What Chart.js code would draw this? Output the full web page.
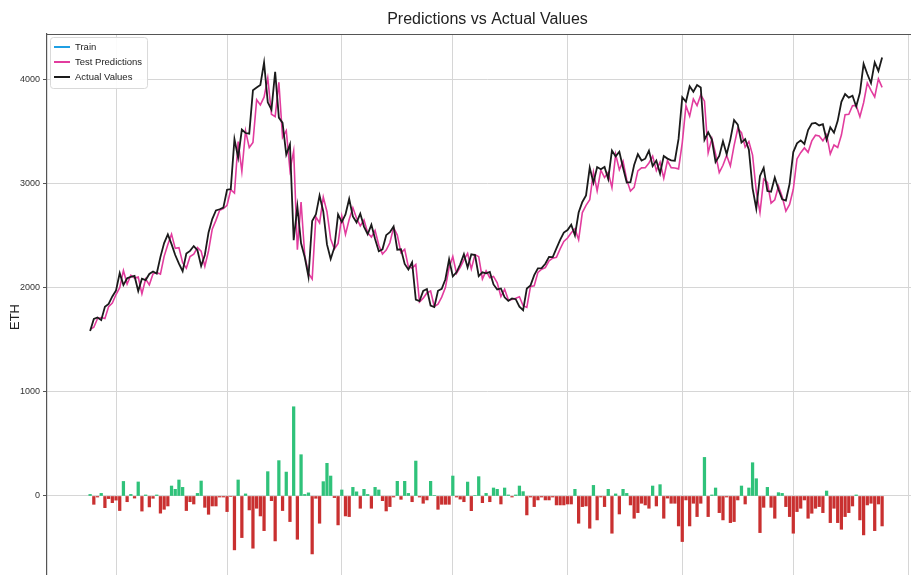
<!DOCTYPE html>
<html>
<head>
<meta charset="utf-8">
<title>Predictions vs Actual Values</title>
<script src="https://cdn.jsdelivr.net/npm/chart.js@4.4.1/dist/chart.umd.min.js"></script>
<style>
  html, body { margin: 0; padding: 0; background: #fff; overflow: hidden; }
  #wrap { width: 930px; height: 600px; }
</style>
</head>
<body>
<div id="wrap"><canvas id="ethChart" width="930" height="600"></canvas></div>
<script>
// --- data: daily ETH, 2021-03-25 .. 2021-10-25 (index 0 = Mar 25) ---
const actualValues = [
  1587,1702,1716,1691,1819,1846,1919,
  1977,2143,2028,2093,2108,2116,1971,2089,2076,2135,2158,2139,2299,2432,2515,2422,2317,2234,2161,2331,2357,2403,2363,2211,2317,2534,2662,2746,2757,2773,
  2945,2950,3431,3253,3522,3490,3484,3902,3928,3952,4168,3785,3716,4079,3638,3587,3282,3380,2460,2784,2430,2295,2109,2643,2706,2888,2736,2419,2279,2390,2707,
  2634,2707,2856,2688,2630,2715,2590,2517,2608,2471,2353,2372,2508,2537,2591,2368,2372,2231,2178,2246,1889,1875,1972,1990,1830,1817,1973,1992,2084,2275,
  2111,2151,2228,2325,2198,2324,2316,2115,2151,2140,2154,2034,1986,1995,1910,1876,1899,1892,1820,1787,1995,2025,2124,2188,2191,2233,2299,2297,2380,2462,2533,
  2557,2608,2506,2725,2827,2890,3158,3012,3163,3142,3164,3048,3322,3265,3310,3156,3014,3018,3182,3286,3225,3243,3320,3172,3225,3101,3269,3244,3227,3224,3433,
  3834,3791,3940,3887,3952,3927,3425,3497,3427,3211,3270,3410,3285,3429,3615,3571,3398,3432,3330,2958,2764,3077,3155,2932,2925,3062,2947,2853,2841,3001,
  3307,3391,3419,3385,3518,3580,3587,3563,3575,3426,3545,3493,3607,3790,3864,3830,3848,3745,3877,4155,4057,3970,4170,4087,4217
];

const testPredictions = [
  1602,1622,1706,1716,1707,1821,1855,
  1937,2003,2168,2038,2123,2096,2106,1944,2086,2030,2136,2149,2134,2304,2419,2518,2381,2388,2244,2191,2302,2326,2388,2355,2208,2358,2566,2650,2747,2763,
  2795,2945,2913,3407,3122,3510,3350,3400,3810,3760,3835,4019,3671,3647,3978,3447,3512,3134,3318,2368,2827,2310,2139,2086,2684,2626,2874,2733,2471,2375,2429,
  2692,2515,2658,2771,2670,2597,2654,2532,2490,2554,2411,2327,2364,2435,2581,2509,2340,2372,2203,2191,2225,1865,1902,1952,1971,1822,1845,1912,2004,2195,
  2303,2141,2198,2270,2332,2183,2321,2301,2087,2165,2099,2111,2050,1918,1987,1886,1889,1902,1916,1829,1813,2015,2022,2150,2181,2195,2261,2287,2294,2376,2447,
  2480,2531,2570,2463,2725,2794,2848,3114,2933,3132,3062,3112,2964,3285,3137,3220,3039,2932,2968,3126,3155,3157,3202,3268,3129,3210,3055,3224,3157,3154,3145,
  3396,3753,3652,3817,3754,3857,3796,3299,3437,3288,3110,3180,3275,3173,3369,3533,3494,3355,3407,3278,2930,2725,3046,3015,2816,2848,2979,2878,2739,2803,
  2949,3241,3301,3347,3304,3414,3469,3461,3415,3474,3289,3375,3351,3470,3666,3670,3752,3755,3647,3781,3971,3900,3837,4010,3929
];

// prediction minus actual (the bars along zero)
const predErrors = [
  15,-80,-10,25,-112,-25,-64,
  -40,-140,140,-55,15,-20,135,-145,10,-105,-22,10,-165,-128,-96,96,64,154,83,-140,-55,-77,25,144,-109,-176,-96,-96,-10,-10,
  -150,-5,-518,154,-400,20,-134,-502,-118,-192,-333,234,-45,-432,340,-140,230,-246,858,-416,397,15,30,-557,-22,-262,138,314,192,-15,-278,
  58,-192,-198,83,40,-118,64,15,-118,83,58,-45,-144,-102,-10,141,-32,141,25,-55,336,-10,-70,-38,141,5,-128,-80,-80,-80,
  192,-10,-30,-55,134,-141,5,186,-64,25,-55,77,64,-77,77,10,-10,10,96,42,-182,-10,-102,-38,-10,-38,-38,-10,-86,-86,-86,
  -77,-77,64,-262,-102,-96,-310,102,-230,-10,-102,64,-358,20,-173,64,25,-86,-214,-160,-70,-86,-118,96,-96,109,-214,-20,-70,-70,-288,
  -438,-38,-288,-70,-198,-70,371,-198,10,77,-160,-230,-10,-256,-246,-38,96,-77,77,320,166,-352,-109,83,-109,-214,32,25,-102,-198,
  -358,-150,-118,-38,-214,-166,-118,-102,-160,48,-256,-118,-256,-320,-198,-160,-96,10,-230,-374,-86,-70,-333,-77,-288
];

const trainValues = [];   // train series is in the legend but not in this window

// month starts (day index) for the vertical grid
const monthTicks = [7, 37, 68, 98, 129, 160, 190, 221];
const monthLabels = ['2021-04','2021-05','2021-06','2021-07','2021-08','2021-09','2021-10','2021-11'];
const yTicks = [0, 1000, 2000, 3000, 4000];

const SANS = "'Liberation Sans', Arial, sans-serif";
const GRID = '#d6d6d6';

const toPoints = arr => arr.map((v, i) => ({ x: i, y: v }));

// top spine
const frame = {
    id: 'frame',
    beforeDatasetsDraw(chart) {
        const { ctx, chartArea: a } = chart;
        ctx.save();
        ctx.strokeStyle = '#555';
        ctx.lineWidth = 1.2;
        ctx.beginPath();
        ctx.moveTo(a.left, a.top + 0.5);
        ctx.lineTo(a.right, a.top + 0.5);
        ctx.stroke();
        ctx.restore();
    }
};

// matplotlib-style legend box in the upper left of the plot
const legendPanel = {
    id: 'legendPanel',
    afterDatasetsDraw(chart) {
        const { ctx, chartArea: a } = chart;
        const items = chart.data.datasets.filter(d => d.type !== 'bar');
        ctx.save();
        ctx.font = '9.5px ' + SANS;
        const textW = Math.max(...items.map(d => ctx.measureText(d.label).width));
        const x0 = a.left + 3, y0 = a.top + 3, rowH = 15;
        const w = 26 + textW + 4, h = items.length * rowH + 6;
        ctx.fillStyle = 'rgba(255,255,255,0.9)';
        ctx.strokeStyle = '#d9d9d9';
        ctx.lineWidth = 1;
        ctx.beginPath();
        ctx.roundRect(x0 + 0.5, y0 + 0.5, w, h, 3);
        ctx.fill();
        ctx.stroke();
        ctx.textBaseline = 'middle';
        items.forEach((d, i) => {
            const cy = y0 + 10 + i * rowH;
            ctx.strokeStyle = d.borderColor;
            ctx.lineWidth = 2;
            ctx.beginPath();
            ctx.moveTo(x0 + 4, cy);
            ctx.lineTo(x0 + 20, cy);
            ctx.stroke();
            ctx.fillStyle = '#222';
            ctx.fillText(d.label, x0 + 25, cy);
        });
        ctx.restore();
    }
};

const ctx = document.getElementById('ethChart').getContext('2d');
new Chart(ctx, {
    type: 'line',
    data: {
        datasets: [
            {
                label: 'Train',
                data: toPoints(trainValues),
                borderColor: '#1f9fe3',
                borderWidth: 1.8,
                pointRadius: 0,
                order: 3
            },
            {
                label: 'Test Predictions',
                data: toPoints(testPredictions),
                borderColor: '#e23c9e',
                borderWidth: 1.6,
                pointRadius: 0,
                tension: 0,
                order: 1
            },
            {
                label: 'Actual Values',
                data: toPoints(actualValues),
                borderColor: '#1b1b1b',
                borderWidth: 1.8,
                pointRadius: 0,
                tension: 0,
                order: 0
            },
            {
                type: 'bar',
                label: 'Error',
                data: toPoints(predErrors),
                backgroundColor: predErrors.map(v => v >= 0 ? '#2fc27a' : '#c93030'),
                borderWidth: 0,
                barThickness: 2.6,
                order: 2
            }
        ]
    },
    options: {
        responsive: false,
        animation: false,
        layout: { padding: { left: 0, right: 2, top: 0, bottom: 0 } },
        plugins: {
            title: {
                display: true,
                text: 'Predictions vs Actual Values',
                fullSize: false,
                color: '#222',
                font: { family: SANS, size: 16, weight: 'normal' },
                padding: { top: 10, bottom: 4.8 }
            },
            legend: { display: false },
            tooltip: { enabled: false }
        },
        scales: {
            x: {
                type: 'linear',
                offset: false,
                min: -11.65,
                max: 226.4,
                afterFit: scale => { scale.height = 0; },
                afterBuildTicks: scale => {
                    scale.ticks = monthTicks.map((v, i) => ({ value: v, label: monthLabels[i] }));
                },
                ticks: { display: false },
                grid: { color: GRID, lineWidth: 1, drawTicks: false, offset: false },
                border: { display: false }
            },
            y: {
                min: -1000,
                max: 4442,
                afterFit: scale => {
                    scale.width = 47;
                    scale.paddingTop = 0;
                    scale.paddingBottom = 0;
                },
                afterBuildTicks: scale => {
                    scale.ticks = yTicks.map(v => ({ value: v }));
                },
                ticks: {
                    color: '#333',
                    padding: 3,
                    font: { family: SANS, size: 9 },
                    callback: v => String(v)
                },
                grid: { color: GRID, lineWidth: 1, tickLength: 4, tickColor: '#555' },
                border: { color: '#555', width: 1.2 },
                title: {
                    display: true,
                    text: 'ETH',
                    color: '#222',
                    font: { family: SANS, size: 13 },
                    padding: { top: 8, bottom: 0 }
                }
            }
        }
    },
    plugins: [frame, legendPanel]
});
</script>
</body>
</html>
